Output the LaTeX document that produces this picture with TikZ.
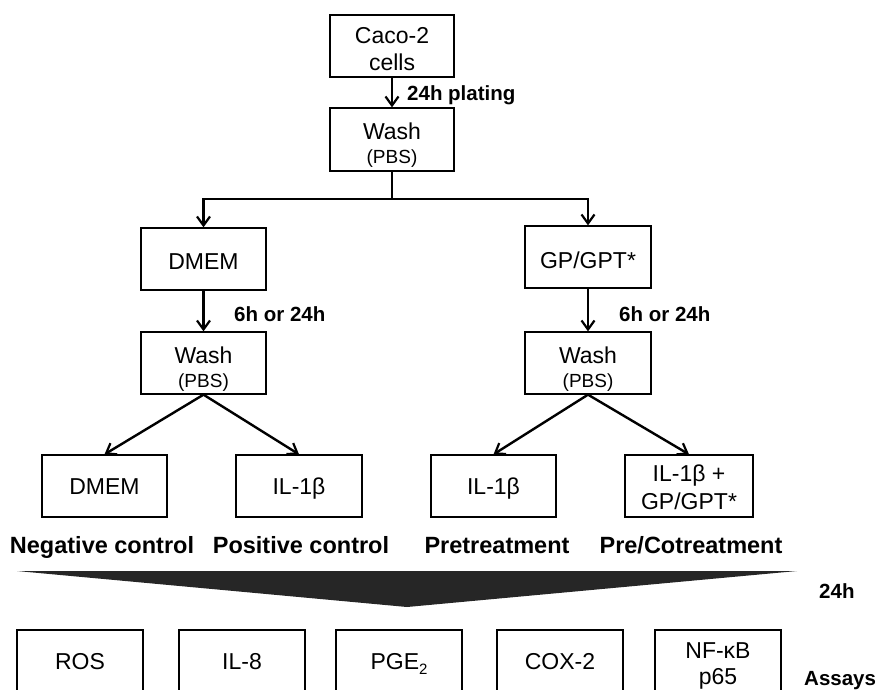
\documentclass[tikz,border=0pt]{standalone}
\usepackage{fontspec}
\setmainfont{Liberation Sans}
\usetikzlibrary{arrows.meta}
\newcommand{\st}[1]{\rule{0pt}{#1pt}}
\newcommand{\sd}[1]{\rule[-5pt]{0pt}{#1pt}}
\begin{document}
\begin{tikzpicture}[x=1pt,y=-1pt,
  box/.style={draw=black,line width=1.3pt,inner sep=0pt,minimum width=125pt,minimum height=62pt,align=center,
    font=\fontsize{23}{26}\selectfont},
  abox/.style={box,minimum width=126pt,minimum height=64pt},
  arr/.style={line width=2.4pt,-{Straight Barb[length=9pt,width=13pt,line width=2.2pt]}},
  conn/.style={line width=2.4pt},
  lab/.style={font=\bfseries\fontsize{20.5}{24}\selectfont,anchor=base west,inner sep=0pt},
  grp/.style={font=\bfseries\fontsize{23.5}{28}\selectfont,anchor=base,inner sep=0pt}
]
\useasboundingbox (0,0) rectangle (877,689);
\clip (0,0) rectangle (877,689);
\newcommand{\pbs}{\\[-2pt]{\fontsize{19}{20}\selectfont (PBS)}}
% top
\node[box,minimum width=124pt] (caco) at (392,46) {\st{22}Caco-2\\[1pt]cells};
\node[box,minimum width=124pt,minimum height=63pt] (washA) at (392,139.5) {\st{28.5}Wash\pbs};
\draw[arr] (caco.south) -- (washA.north);
\node[lab] (plating) at (407,100) {24h plating};
% split
\node[box] (dmem) at (203.5,259) {\sd{31.5}DMEM};
\node[box,minimum width=126pt] (gp) at (588,257) {\sd{33.5}GP/GPT*};
\coordinate (sp) at (392,199);
\draw[conn] (washA.south) -- (sp);
\draw[arr] (sp) -| (dmem.north);
\draw[arr] (sp) -| (gp.north);
% second washes
\node[box] (washB) at (203.5,363) {\st{28.5}Wash\pbs};
\node[box,minimum width=126pt] (washC) at (588,363) {\st{28.5}Wash\pbs};
\draw[arr] (dmem.south) -- (washB.north);
\draw[arr] (gp.south) -- (washC.north);
\node[lab] (tA) at (234,321) {6h or 24h};
\node[lab] (tB) at (619,321) {6h or 24h};
% treatments
\node[box] (neg) at (104.5,486) {\sd{27.5}DMEM};
\node[box,minimum width=126pt] (pos) at (299,486) {\sd{27.5}IL-1β};
\node[box] (pre) at (493.5,486) {\sd{27.5}IL-1β};
\node[box,minimum width=128pt] (co) at (689,486) {\st{19}IL-1β +\\[2pt]GP/GPT*};
\draw[arr] (washB.south) -- (neg.north);
\draw[arr] (washB.south) -- (pos.north);
\draw[arr] (washC.south) -- (pre.north);
\draw[arr] (washC.south) -- (co.north);
\node[grp] (lneg) at (102,553) {Negative control};
\node[grp] (lpos) at (301,553) {Positive control};
\node[grp] (lpre) at (497,553) {Pretreatment};
\node[grp] (lco) at (691,553) {Pre/Cotreatment};
% funnel
\fill[fill={rgb,255:red,38;green,38;blue,38}] (17,571) -- (797,571) -- (407,607) -- cycle;
\node[lab] (h24) at (819,598) {24h};
% assays
\node[abox] (ros) at (80,662) {\sd{25.5}ROS};
\node[abox] (il8) at (242,662) {\sd{25.5}IL-8};
\node[abox] (pge) at (399,662) {\sd{25.5}PGE\smash{\raisebox{-5pt}{\fontsize{15}{15}\selectfont 2}}};
\node[abox] (cox) at (560,662) {\sd{25.5}COX-2};
\node[abox] (nfkb) at (718,662) {\st{24}NF-κB\\p65};
\node[lab] (assays) at (804,685) {Assays};
\end{tikzpicture}
\end{document}
